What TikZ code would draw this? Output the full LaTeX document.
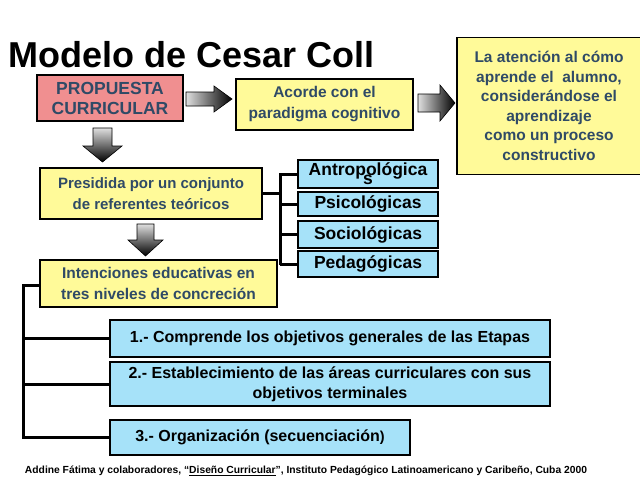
\documentclass[tikz,border=0pt]{standalone}
\usepackage{fontspec}
\setmainfont{Liberation Sans}
\begin{document}
\begin{tikzpicture}[x=1pt,y=-1pt,
  yel/.style={draw=black,line width=1.5pt,fill=yellow!40,text=tx,font=\bfseries\fontsize{15.5}{19}\selectfont,align=center,inner sep=0pt},
  blu/.style={draw=black,line width=1.5pt,fill=cyan!35,font=\bfseries\fontsize{16}{19}\selectfont,align=center,inner sep=0pt},
  con/.style={line width=3pt}]
\definecolor{tx}{HTML}{2F4A66}
\definecolor{pk}{HTML}{F08F90}
\path[use as bounding box] (0,0) rectangle (640,480);
\fill[white] (0,0) rectangle (640,480);
\node[anchor=west,font=\bfseries\fontsize{36}{40}\selectfont] (title) at (5,55) {Modelo de Cesar Coll};
\node[yel,fill=pk,minimum width=146,minimum height=46,font=\bfseries\fontsize{17.5}{20}\selectfont] (prop) at (110,98) {PROPUESTA\\CURRICULAR};
\node[yel,minimum width=177,minimum height=51,font=\bfseries\fontsize{15.5}{21}\selectfont] (acorde) at (324.5,104.5) {Acorde con el\\paradigma cognitivo};
\node[yel,minimum width=184,minimum height=137,font=\bfseries\fontsize{15.5}{19.5}\selectfont] (aten) at (549,106) {La atención al cómo\\aprende el \ alumno,\\considerándose el\\aprendizaje\\como un proceso\\constructivo};
\node[yel,minimum width=222,minimum height=51,font=\bfseries\fontsize{15}{21}\selectfont] (pres) at (151,193.5) {Presidida por un conjunto\\de referentes teóricos};
\node[yel,minimum width=237,minimum height=47,font=\bfseries\fontsize{15.5}{21}\selectfont] (inten) at (158.5,283.5) {Intenciones educativas en\\tres niveles de concreción};
\node[blu,minimum width=140,minimum height=28,font=\bfseries\fontsize{17.5}{19}\selectfont] (b1) at (368,174) {Antropológica\\[-10pt]s};
\node[blu,minimum width=140,minimum height=24,font=\bfseries\fontsize{17.5}{19}\selectfont] (b2) at (368,204) {Psicológicas};
\node[blu,minimum width=140,minimum height=27,font=\bfseries\fontsize{17.5}{19}\selectfont] (b3) at (368,234.5) {Sociológicas};
\node[blu,minimum width=140,minimum height=26,font=\bfseries\fontsize{17.5}{19}\selectfont] (b4) at (368,264) {Pedagógicas};
\node[blu,minimum width=440,minimum height=37] (n1) at (330,338.5) {1.- Comprende los objetivos generales de las Etapas};
\node[blu,minimum width=440,minimum height=44,font=\bfseries\fontsize{16}{20}\selectfont] (n2) at (330,384) {2.- Establecimiento de las áreas curriculares con sus\\objetivos terminales};
\node[blu,minimum width=300,minimum height=35] (n3) at (260,437.5) {3.- Organización (secuenciación{\Large)}};
\node[font=\bfseries\fontsize{10.3}{12}\selectfont] (foot) at (306,471) {Addine Fátima y colaboradores, “\underline{Diseño Curricular}”, Instituto Pedagógico Latinoamericano y Caribeño, Cuba 2000};
% block arrows
\shade[left color=gray!25,right color=black,draw=black,line width=0.6pt] (186,92)--(214,92)--(214,86)--(232,99)--(214,112)--(214,106)--(186,106)--cycle;
\shade[left color=gray!25,right color=black,draw=black,line width=0.6pt] (418,94)--(440,94)--(440,85)--(455,103)--(440,121)--(440,112)--(418,112)--cycle;
\shade[top color=gray!25,bottom color=black,draw=black,line width=0.6pt] (93,128)--(112,128)--(112,146)--(122,146)--(102.5,162)--(83,146)--(93,146)--cycle;
\shade[top color=gray!25,bottom color=black,draw=black,line width=0.6pt] (137,224)--(154,224)--(154,240)--(163,240)--(145.5,256)--(128,240)--(137,240)--cycle;
% connectors
\coordinate (j) at (280,193.5);
\draw[con] (pres.east) -- (j);
\draw[con] (280,173) -- (280,265);
\draw[con] (280,174) -- (b1.west);
\draw[con] (280,204) -- (b2.west);
\draw[con] (280,234.5) -- (b3.west);
\draw[con] (280,264) -- (b4.west);
\draw[con] (inten.west|-0,285) -- (23,285) -- (23,437.5) -- (n3.west);
\draw[con] (23,338.5) -- (n1.west);
\draw[con] (23,384) -- (n2.west);
\end{tikzpicture}
\end{document}
